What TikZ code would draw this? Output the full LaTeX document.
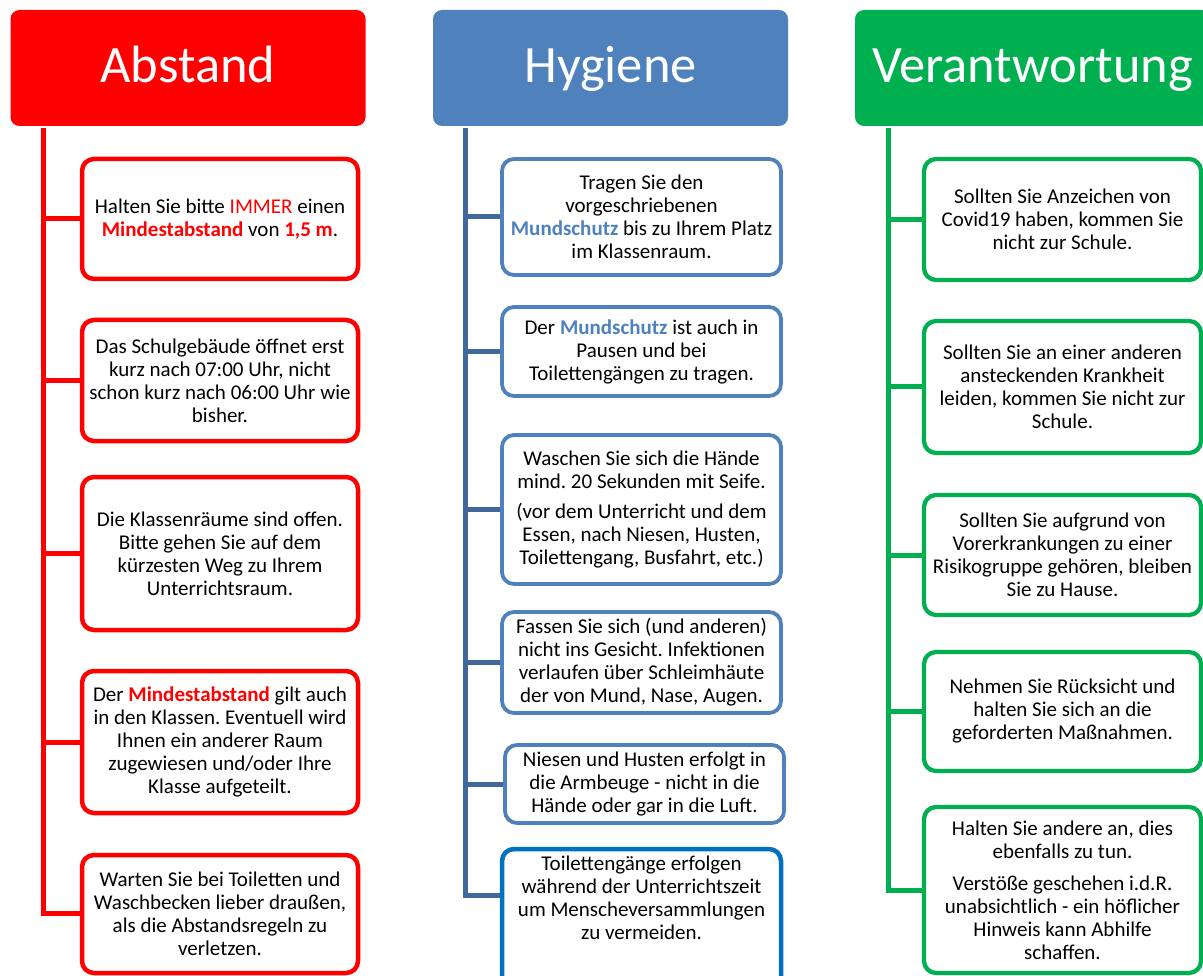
\documentclass[tikz,border=0pt]{standalone}
\usepackage{fontspec}
\setmainfont{Carlito}
\usetikzlibrary{calc}
\definecolor{abred}{RGB}{255,0,0}
\definecolor{hyblue}{RGB}{79,129,189}
\definecolor{hyline}{RGB}{64,104,155}
\definecolor{hydark}{RGB}{0,112,192}
\definecolor{vegreen}{RGB}{0,176,80}
\frenchspacing
\tikzset{
  header/.style={rounded corners=9pt, minimum height=116pt, minimum width=355pt, text=white,
    font=\fontsize{52.5}{60}\selectfont, text height=37pt, text depth=7pt, inner sep=0pt},
  card/.style={draw, fill=white, rounded corners=12pt, line width=4pt, align=center, inner sep=0pt,
    font=\fontsize{21}{23}\selectfont, text=black},
  cardtext/.style={align=center, inner sep=0pt, font=\fontsize{21}{23}\selectfont, text=black},
  redcard/.style={card, draw=abred, line width=4.5pt, minimum width=276pt},
  bluecard/.style={card, draw=hyblue, line width=3.8pt, minimum width=279pt},
  greencard/.style={card, draw=vegreen, line width=4.3pt, minimum width=277pt},
  redline/.style={draw=abred, line width=5pt},
  blueline/.style={draw=hyline, line width=5pt},
  greenline/.style={draw=vegreen, line width=5pt},
}
\newcommand{\rw}[1]{\textcolor{abred}{#1}}
\newcommand{\rb}[1]{\textbf{\textcolor{abred}{#1}}}
\newcommand{\bb}[1]{\textbf{\textcolor{hyblue}{#1}}}
\begin{document}
\begin{tikzpicture}[x=1pt,y=-1pt]
\useasboundingbox (0,0) rectangle (1203,976);
\clip (0,0) rectangle (1203,976);
\fill[white] (0,0) rectangle (1203,976);

% headers
\node[header, fill=abred] (hA) at (188,68) {Abstand};
\node[header, fill=hyblue] (hH) at (610.5,68) {Hygiene};
\node[header, fill=vegreen] (hV) at (1032.5,68) {Verantwortung};

% trunk tops
\coordinate (rtop) at (43,128);
\coordinate (btop) at (465,128);
\coordinate (gtop) at (888,128);

% ---------- Abstand ----------
\node[redcard, minimum height=120pt] (r1) at (220,219) {Halten Sie bitte \rw{IMMER} einen\\ \rb{Mindestabstand} von \rb{1,5 m}.};
\node[redcard, minimum height=121pt] (r2) at (220,380.5) {Das Schulgebäude öffnet erst\\kurz nach 07:00 Uhr, nicht\\schon kurz nach 06:00 Uhr wie\\bisher.};
\node[redcard, minimum height=153pt] (r3) at (220,553.5) {Die Klassenräume sind offen.\\Bitte gehen Sie auf dem\\kürzesten Weg zu Ihrem\\Unterrichtsraum.};
\node[redcard, minimum height=142pt] (r4) at (220,742) {Der \rb{Mindestabstand} gilt auch\\in den Klassen. Eventuell wird\\Ihnen ein anderer Raum\\zugewiesen und/oder Ihre\\Klasse aufgeteilt.};
\node[redcard, minimum height=118pt] (r5f) at (220,914) {};
\node[cardtext] (r5) at (220,913.5) {Warten Sie bei Toiletten und\\Waschbecken lieber draußen,\\als die Abstandsregeln zu\\verletzen.};

\foreach \n in {r1,r2,r3,r4} \draw[redline] (\n.west) -- (\n.west -| rtop);
\draw[redline] (rtop) |- (r5f.west |- r5.center);

% ---------- Hygiene ----------
\node[bluecard, minimum height=116pt] (b1) at (641.5,217) {Tragen Sie den\\vorgeschriebenen\\\bb{Mundschutz} bis zu Ihrem Platz\\im Klassenraum.};
\node[bluecard, minimum height=89pt] (b2) at (641.5,351.5) {Der \bb{Mundschutz} ist auch in\\Pausen und bei\\Toilettengängen zu tragen.};
\node[bluecard, minimum height=149pt] (b3) at (641.5,509.5) {Waschen Sie sich die Hände\\mind. 20 Sekunden mit Seife.\\[7pt](vor dem Unterricht und dem\\Essen, nach Niesen, Husten,\\Toilettengang, Busfahrt, etc.)};
\node[bluecard, minimum height=101pt] (b4) at (641.5,662.5) {Fassen Sie sich (und anderen)\\nicht ins Gesicht. Infektionen\\verlaufen über Schleimhäute\\der von Mund, Nase, Augen.};
\node[bluecard, minimum height=78pt] (b5) at (644.5,784) {Niesen und Husten erfolgt in\\die Armbeuge - nicht in die\\Hände oder gar in die Luft.};
\node[bluecard, draw=hydark, line width=4.5pt, minimum height=150pt] (b6f) at (641.5,924) {};
\node[cardtext] (b6) at (641.5,898) {Toilettengänge erfolgen\\während der Unterrichtszeit\\um Menscheversammlungen\\zu vermeiden.};

\foreach \n in {b1,b2,b3,b4,b5} \draw[blueline] (\n.west) -- (\n.west -| btop);
\draw[blueline] (btop) |- (b6f.west |- 0,895);

% ---------- Verantwortung ----------
\node[greencard, minimum height=121pt] (g1) at (1062.5,219.5) {Sollten Sie Anzeichen von\\Covid19 haben, kommen Sie\\nicht zur Schule.};
\node[greencard, minimum height=132pt] (g2) at (1062.5,387) {Sollten Sie an einer anderen\\ansteckenden Krankheit\\leiden, kommen Sie nicht zur\\Schule.};
\node[greencard, minimum height=120pt] (g3) at (1062.5,555) {Sollten Sie aufgrund von\\Vorerkrankungen zu einer\\Risikogruppe gehören, bleiben\\Sie zu Hause.};
\node[greencard, minimum height=119pt] (g4) at (1062.5,711.5) {Nehmen Sie Rücksicht und\\halten Sie sich an die\\geforderten Maßnahmen.};
\node[greencard, minimum height=166pt] (g5) at (1062.5,890) {Halten Sie andere an, dies\\ebenfalls zu tun.\\[9pt]Verstöße geschehen i.d.R.\\unabsichtlich - ein höflicher\\Hinweis kann Abhilfe\\schaffen.};

\foreach \n in {g1,g2,g3,g4} \draw[greenline] (\n.west) -- (\n.west -| gtop);
\draw[greenline] (gtop) |- (g5.west);
\end{tikzpicture}
\end{document}
